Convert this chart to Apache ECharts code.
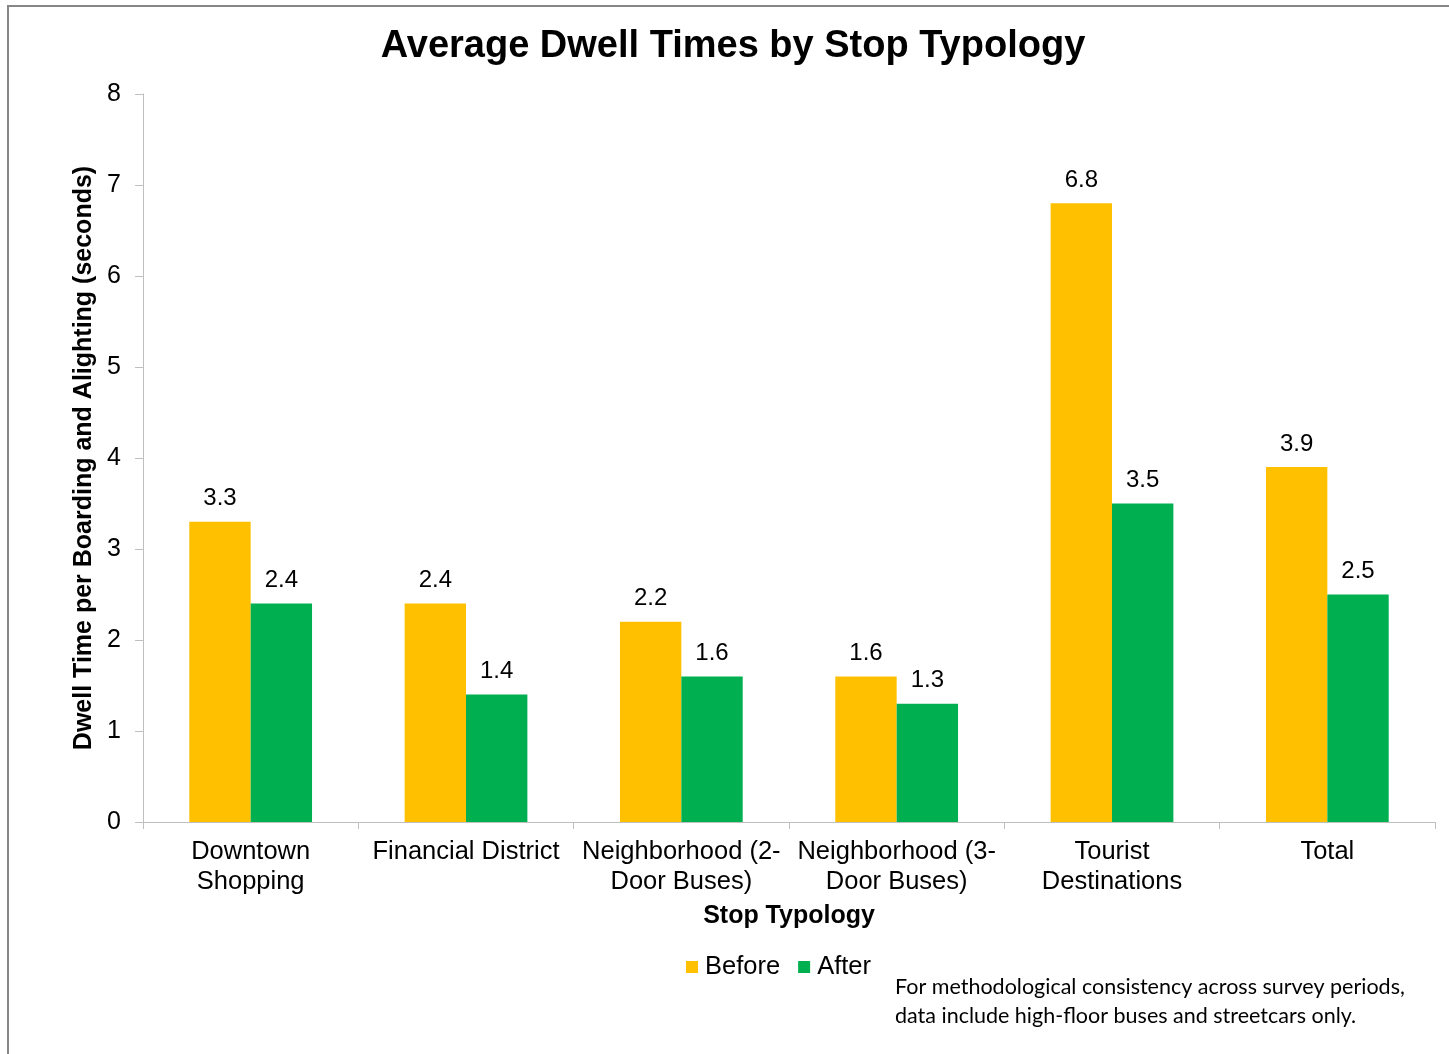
<!DOCTYPE html>
<html>
<head>
<meta charset="utf-8">
<script src="https://cdn.jsdelivr.net/npm/echarts@6/dist/echarts.min.js"></script>
<style>
  html, body { margin: 0; padding: 0; background: #fff; }
  #chart { width: 1449px; height: 1054px; }
</style>
</head>
<body>
<div id="chart"></div>
<script>
// Stop typologies along the x axis
const categories = [
  'Downtown\nShopping',
  'Financial District',
  'Neighborhood (2-\nDoor Buses)',
  'Neighborhood (3-\nDoor Buses)',
  'Tourist\nDestinations',
  'Total'
];
// Average dwell time per boarding/alighting, seconds
const beforeValues = [3.3, 2.4, 2.2, 1.6, 6.8, 3.9];
const afterValues = [2.4, 1.4, 1.6, 1.3, 3.5, 2.5];
const seriesNames = ['Before', 'After'];

const FONT = '"Liberation Sans", Arial, sans-serif';
const axisGray = '#BFBFBF';

const chart = echarts.init(document.getElementById('chart'), null, { renderer: 'canvas' });

const labelStyle = {
  show: true,
  position: 'top',
  distance: 11,
  fontFamily: FONT,
  fontSize: 24,
  color: '#000',
  formatter: p => p.value.toFixed(1)
};

chart.setOption({
  animation: false,
  backgroundColor: '#fff',
  legend: {
    data: seriesNames,
    left: 681,
    top: 949,
    itemWidth: 12,
    itemHeight: 12,
    itemGap: 18,
    icon: 'rect',
    textStyle: { fontFamily: FONT, fontSize: 25.5, color: '#000', padding: [0, 0, 0, 2] }
  },
  grid: { left: 143, right: 14, top: 94, bottom: 232, containLabel: false },
  xAxis: {
    type: 'category',
    data: categories,
    name: 'Stop Typology',
    nameLocation: 'middle',
    nameGap: 82,
    nameTextStyle: { fontFamily: FONT, fontSize: 25, fontWeight: 'bold', color: '#000' },
    axisLine: { lineStyle: { color: axisGray, width: 1 } },
    axisTick: { show: true, length: 7, alignWithLabel: false, lineStyle: { color: axisGray } },
    axisLabel: {
      interval: 0,
      margin: 15,
      fontFamily: FONT,
      fontSize: 25.5,
      lineHeight: 30,
      color: '#000'
    }
  },
  yAxis: {
    type: 'value',
    min: 0,
    max: 8,
    interval: 1,
    name: 'Dwell Time per Boarding and Alighting (seconds)',
    nameLocation: 'middle',
    nameGap: 43,
    nameRotate: 90,
    nameTextStyle: { fontFamily: FONT, fontSize: 25, fontWeight: 'bold', color: '#000' },
    axisLine: { show: true, lineStyle: { color: axisGray, width: 1 } },
    axisTick: { show: true, length: 8, lineStyle: { color: axisGray } },
    splitLine: { show: false },
    axisLabel: { margin: 22, fontFamily: FONT, fontSize: 25, color: '#000' }
  },
  series: [
    {
      name: seriesNames[0],
      type: 'bar',
      data: beforeValues,
      itemStyle: { color: '#FFC000' },
      barGap: '0%',
      barCategoryGap: '43%',
      label: labelStyle
    },
    {
      name: seriesNames[1],
      type: 'bar',
      data: afterValues,
      itemStyle: { color: '#00B050' },
      barGap: '0%',
      barCategoryGap: '43%',
      label: labelStyle
    }
  ],
  graphic: [
    {
      type: 'rect',
      shape: { x: 8, y: 6, width: 1460, height: 1070 },
      style: { fill: 'none', stroke: '#878787', lineWidth: 2 },
      silent: true
    },
    {
      type: 'text',
      x: 733,
      y: 47,
      style: {
        text: 'Average Dwell Times by Stop Typology',
        fontFamily: FONT,
        fontSize: 38,
        fontWeight: 'bold',
        fill: '#000',
        align: 'center',
        verticalAlign: 'middle'
      }
    },
    {
      type: 'text',
      left: 895,
      top: 973,
      style: {
        text: 'For methodological consistency across survey periods,\ndata include high-floor buses and streetcars only.',
        fontFamily: 'Lato, "Open Sans", sans-serif',
        fontSize: 21.5,
        lineHeight: 29,
        fill: '#000'
      }
    }
  ]
});
</script>
</body>
</html>
